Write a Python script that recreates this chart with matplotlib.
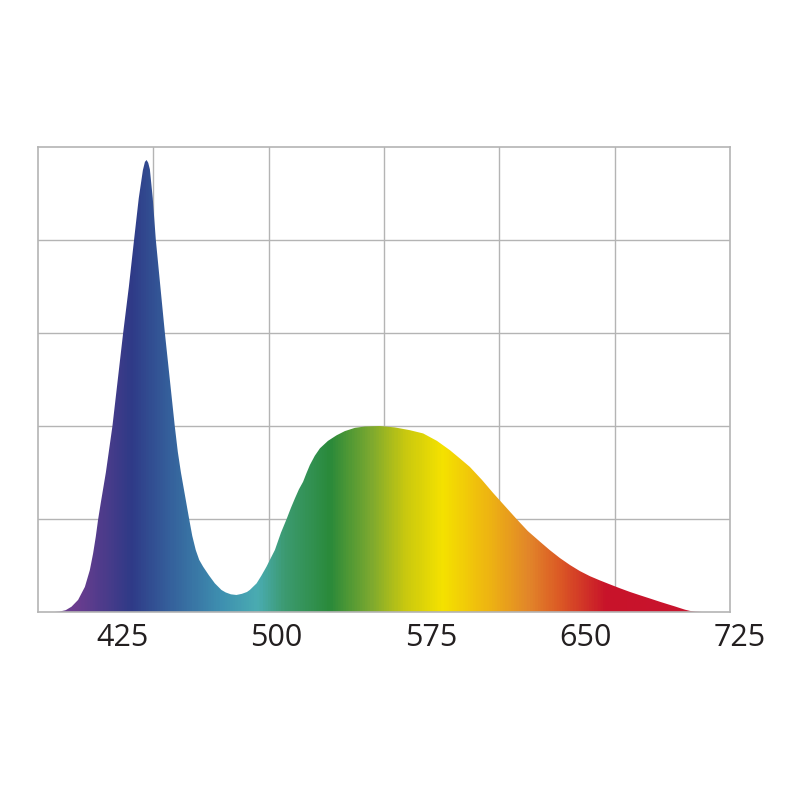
import numpy as np
import matplotlib
matplotlib.use('Agg')
import matplotlib.pyplot as plt
from matplotlib.colors import LinearSegmentedColormap

# Datos (longitud de onda nm, intensidad relativa)
longitud_onda = [384, 392.2, 394.6, 397.5, 400.3, 403.5, 406.8, 409.2, 410.8, 412.1,
                 413.2, 414.5, 417.0, 420.2, 422.8, 425.4, 428.2, 430.7, 433.0, 435.0,
                 436.0, 436.8, 437.6, 438.4, 439.8, 441.3, 443.5, 445.7, 448.1, 450.5,
                 452.0, 453.5, 455.9, 457.5, 459.0, 460.7, 462.4, 464.3, 467.1, 470.0,
                 473.2, 475.3, 477.8, 480.5, 483.1, 485.6, 487.0, 490.3, 492.6, 495.1,
                 497.2, 499.2, 502.1, 504.9, 507.0, 508.9, 510.9, 512.9, 514.5, 516.2,
                 518.6, 521.1, 525.0, 529.2, 533.2, 538.1, 543.0, 550.2, 557.5, 564.8,
                 571.3, 578.0, 584.3, 589.2, 594.0, 599.9, 605.3, 611.0, 616.7, 622.2,
                 628.1, 632.9, 637.8, 642.7, 647.5, 652.4, 657.2, 662.1, 667.0, 671.8,
                 676.7, 681.6, 686.4, 690.3, 693.7, 696.2, 698.6, 701.0, 703.5, 706.9,
                 720.5]
intensidad = [0, 0, 0.005, 0.02, 0.057, 0.13, 0.27, 0.45, 0.63, 0.81,
              0.99, 1.17, 1.5, 2.0, 2.5, 3.0, 3.5, 4.0, 4.45, 4.75,
              4.84, 4.86, 4.83, 4.76, 4.45, 4.0, 3.5, 3.0, 2.5, 2.0,
              1.72, 1.5, 1.2, 1.0, 0.82, 0.667, 0.56, 0.487, 0.395, 0.308,
              0.237, 0.21, 0.19, 0.183, 0.195, 0.215, 0.237, 0.308, 0.39, 0.487,
              0.58, 0.667, 0.85, 1.0, 1.12, 1.22, 1.32, 1.40, 1.49, 1.58,
              1.68, 1.76, 1.84, 1.90, 1.945, 1.98, 1.995, 2.0, 1.985, 1.955,
              1.92, 1.84, 1.74, 1.65, 1.56, 1.42, 1.28, 1.14, 1.0, 0.87,
              0.756, 0.665, 0.58, 0.505, 0.44, 0.385, 0.34, 0.297, 0.255, 0.216,
              0.18, 0.145, 0.11, 0.083, 0.06, 0.042, 0.025, 0.012, 0.004, 0,
              0]
etiquetas_x = [425, 500, 575, 650, 725]

x_min, x_max = 384, 720.5
y_max = 5

# Colores del espectro (posicion en nm, color)
paradas = [(384, '#6b3d8f'), (401.9, '#6b3d8f'), (428.6, '#2f3a87'), (448, '#35619c'),
           (472.4, '#3e8fb0'), (490.4, '#4aacb2'), (504, '#3c9a70'), (526, '#2a8a3a'),
           (545.4, '#7aa830'), (562.4, '#c8c810'), (580.9, '#f5e200'), (603.7, '#eeb412'),
           (623.2, '#e2852a'), (637.8, '#dc5a25'), (660.7, '#c8132a'), (720.5, '#c81530')]
cmap = LinearSegmentedColormap.from_list(
    'espectro', [((p - x_min) / (x_max - x_min), c) for p, c in paradas])

fig = plt.figure(figsize=(8, 8), dpi=100)
fig.patch.set_facecolor('white')
ax = fig.add_axes([38 / 800, 188 / 800, 692 / 800, 465 / 800])

# Rejilla: 6 columnas x 5 filas
for gx in np.linspace(x_min, x_max, 7)[1:-1]:
    ax.axvline(gx, color='#b4b4b4', lw=1.0, zorder=0)
for gy in range(1, y_max):
    ax.axhline(gy, color='#b4b4b4', lw=1.0, zorder=0)

# Relleno con degradado
relleno = ax.fill_between(longitud_onda, intensidad, 0, facecolor='none',
                          edgecolor='none', zorder=1)
gradiente = np.linspace(0, 1, 800).reshape(1, -1)
img = ax.imshow(gradiente, cmap=cmap, aspect='auto', interpolation='bilinear',
                extent=(x_min, x_max, 0, y_max), origin='lower', zorder=2)
trazo = relleno.get_paths()[0]
img.set_clip_path(trazo, transform=ax.transData)

ax.set_xlim(x_min, x_max)
ax.set_ylim(0, y_max)
ax.set_xticks([])
ax.set_yticks([])
for s in ax.spines.values():
    s.set_color('#b4b4b4')
    s.set_linewidth(1.2)
    s.set_zorder(3)

for v in etiquetas_x:
    ax.text(v, -0.055, str(v), transform=ax.get_xaxis_transform(),
            ha='center', va='center', fontsize=22, color='#231f20',
            family='Open Sans', clip_on=False)

plt.savefig('out.png', dpi=100, facecolor='white')
plt.close()
